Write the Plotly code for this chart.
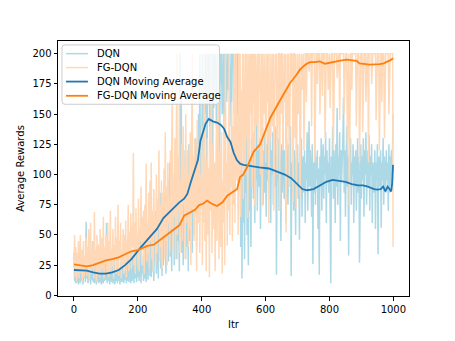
import plotly.graph_objects as go

# raw rewards read every 2 iterations (plus the final iteration)
itr_raw = list(range(0, 1000, 2)) + [999]

dqn_raw = [
    35, 12, 20, 10, 28, 11, 15, 9, 24, 13,
    10, 22, 12, 30, 9, 18, 14, 26, 11, 61,
    14, 25, 10, 19, 12, 32, 9, 21, 13, 45,
    11, 24, 10, 17, 28, 9, 15, 12, 22, 10,
    18, 11, 30, 9, 14, 25, 10, 20, 12, 35,
    13, 60, 10, 22, 12, 18, 9, 28, 11, 16,
    24, 10, 14, 32, 9, 19, 12, 26, 10, 40,
    12, 22, 9, 17, 30, 11, 14, 25, 10, 20,
    13, 35, 10, 24, 12, 45, 11, 18, 28, 10,
    30, 12, 20, 38, 10, 26, 14, 50, 11, 22,
    15, 40, 12, 28, 48, 10, 32, 18, 24, 12,
    35, 14, 55, 11, 25, 40, 13, 30, 60, 16,
    45, 15, 62, 20, 35, 12, 50, 28, 70, 18,
    40, 75, 14, 55, 30, 85, 22, 48, 16, 65,
    25, 90, 35, 60, 18, 78, 45, 95, 28, 55,
    110, 32, 70, 20, 88, 50, 100, 25, 65, 40,
    80, 30, 105, 45, 60, 20, 200, 90, 165, 35,
    95, 25, 120, 55, 75, 30, 110, 40, 85, 20,
    125, 45, 100, 60, 130, 35, 90, 110, 50, 120,
    70, 130, 40, 110, 85, 150, 60, 200, 95, 140,
    80, 200, 120, 180, 70, 200, 150, 200, 100, 190,
    200, 160, 200, 120, 200, 170, 200, 90, 200, 155,
    200, 180, 200, 140, 200, 200, 160, 200, 110, 200,
    175, 200, 150, 200, 200, 130, 200, 185, 200, 160,
    200, 200, 170, 200, 140, 200, 200, 160, 200, 190,
    200, 150, 200, 200, 175, 200, 130, 200, 165, 200,
    120, 40, 150, 14, 100, 60, 135, 30, 110, 85,
    140, 50, 95, 25, 125, 70, 110, 40, 130, 90,
    115, 80, 135, 60, 120, 95, 145, 70, 110, 125,
    90, 130, 55, 115, 100, 140, 75, 120, 85, 135,
    105, 65, 125, 95, 140, 80, 115, 130, 60, 120,
    100, 135, 75, 110, 125, 90, 140, 17, 115, 95,
    130, 70, 120, 100, 45, 125, 85, 135, 110, 80,
    120, 95, 60, 130, 105, 75, 125, 90, 115, 140,
    16, 110, 85, 125, 70, 120, 100, 50, 115, 90,
    125, 80, 110, 46, 120, 95, 130, 65, 105, 115,
    85, 120, 60, 110, 95, 135, 70, 115, 144, 90,
    120, 100, 65, 125, 26, 110, 85, 130, 75, 115,
    95, 120, 55, 105, 17, 115, 90, 130, 70, 110,
    125, 80, 115, 100, 135, 60, 120, 95, 110, 85,
    130, 70, 10, 115, 95, 140, 80, 120, 105, 60,
    125, 90, 155, 75, 115, 100, 135, 45, 120, 95,
    110, 130, 164, 85, 120, 65, 105, 140, 90, 115,
    33, 120, 95, 130, 75, 110, 100, 125, 60, 115,
    90, 120, 70, 110, 130, 85, 115, 27, 105, 125,
    80, 115, 95, 130, 65, 120, 100, 135, 75, 110,
    120, 90, 133, 70, 115, 100, 125, 60, 110, 95,
    85, 120, 55, 110, 95, 125, 34, 115, 90, 105,
    120, 56, 110, 95, 130, 75, 115, 100, 85, 120,
    95, 110, 70, 125, 85, 115, 90, 120, 100, 130,
    150,
]

fg_raw = [
    25, 50, 15, 40, 12, 35, 20, 45, 14, 30,
    50, 18, 38, 12, 28, 45, 15, 33, 22, 48,
    16, 40, 24, 55, 12, 30, 60, 18, 36, 22,
    45, 14, 69, 25, 38, 12, 50, 20, 42, 28,
    15, 55, 30, 18, 48, 22, 65, 14, 40, 26,
    50, 18, 35, 60, 15, 45, 28, 70, 20, 38,
    24, 55, 14, 42, 30, 65, 18, 48, 22, 75,
    16, 45, 32, 60, 14, 38, 25, 55, 18, 50,
    28, 62, 15, 45, 35, 75, 20, 52, 30, 68,
    22, 58, 40, 118, 25, 60, 18, 72, 35, 50,
    30, 80, 20, 55, 45, 90, 25, 65, 38, 70,
    18, 75, 42, 109, 28, 60, 35, 85, 22, 95,
    45, 110, 30, 70, 20, 88, 50, 65, 25, 100,
    35, 80, 55, 120, 28, 75, 40, 95, 22, 85,
    50, 105, 30, 135, 45, 90, 25, 110, 60, 80,
    35, 120, 55, 95, 179, 40, 100, 65, 130, 30,
    90, 200, 50, 115, 70, 162, 35, 95, 60, 125,
    45, 140, 75, 105, 30, 150, 85, 60, 120, 40,
    100, 55, 135, 25, 90, 200, 70, 115, 45, 130,
    65, 110, 20, 145, 80, 60, 125, 35, 100, 75,
    140, 25, 95, 60, 200, 45, 115, 20, 85, 130,
    50, 105, 15, 140, 70, 200, 35, 90, 125, 55,
    110, 20, 80, 145, 45, 100, 200, 30, 75, 120,
    40, 135, 18, 95, 60, 150, 25, 200, 85, 110,
    41, 130, 70, 200, 50, 115, 90, 160, 45, 140,
    75, 200, 60, 125, 200, 95, 150, 50, 200, 110,
    200, 65, 170, 120, 200, 80, 200, 140, 100, 200,
    130, 200, 64, 180, 200, 110, 200, 150, 200, 90,
    200, 160, 200, 74, 200, 140, 200, 200, 120, 200,
    170, 200, 100, 200, 200, 74, 200, 150, 200, 200,
    110, 200, 200, 160, 200, 60, 200, 200, 130, 200,
    200, 140, 200, 70, 200, 200, 180, 200, 100, 200,
    200, 200, 70, 200, 150, 200, 200, 120, 200, 200,
    160, 200, 52, 200, 200, 140, 200, 90, 200, 200,
    200, 180, 200, 77, 200, 200, 130, 200, 72, 200,
    200, 150, 200, 200, 82, 200, 200, 170, 200, 200,
    120, 200, 200, 200, 160, 200, 200, 200, 185, 200,
    200, 200, 140, 200, 200, 200, 200, 110, 200, 200,
    200, 175, 200, 200, 200, 150, 200, 200, 200, 165,
    200, 200, 200, 130, 200, 200, 200, 200, 170, 200,
    200, 155, 200, 200, 200, 200, 120, 200, 200, 200,
    200, 200, 180, 200, 200, 200, 145, 200, 200, 200,
    200, 200, 200, 150, 200, 200, 200, 200, 125, 200,
    200, 74, 200, 200, 200, 170, 200, 200, 200, 200,
    200, 200, 140, 200, 200, 200, 200, 110, 200, 200,
    200, 200, 135, 200, 200, 200, 200, 160, 200, 200,
    200, 110, 200, 200, 200, 200, 175, 200, 200, 200,
    200, 200, 200, 145, 200, 200, 200, 200, 120, 200,
    200, 200, 160, 200, 200, 200, 130, 200, 200, 200,
    200, 200, 200, 150, 200, 200, 200, 200, 200, 200,
    40,
]

dqn_ma_itr = [0, 20, 40, 60, 80, 100, 120, 140, 160, 180, 200, 210, 240, 260, 280,
              300, 313, 330, 345, 355, 365, 378, 388, 396, 412, 422, 435, 448, 460,
              470, 480, 490, 500, 510, 520, 530, 550, 580, 610, 640, 660, 680, 700,
              715, 730, 750, 770, 790, 810, 830, 850, 870, 890, 905, 920, 940, 950,
              960, 968, 975, 982, 988, 993, 996, 999]
dqn_ma = [21, 21, 20.5, 19, 18, 18, 19, 21, 25, 30, 37, 40, 49, 55, 64,
          69, 73, 77, 80, 84, 93, 104, 112, 128, 142, 146, 144, 143, 141,
          138, 131, 127, 118, 112, 109, 108, 107, 106, 105, 102, 100, 97, 92,
          88, 87, 88, 91, 94, 95.5, 95, 94, 92, 91, 91, 90, 88, 87.5,
          88, 90, 86, 90, 88, 86, 92, 108]

fg_ma_itr = [0, 20, 40, 60, 80, 100, 120, 140, 160, 180, 200, 215, 230, 250, 270,
             290, 313, 330, 345, 365, 380, 391, 405, 417, 430, 448, 465, 480, 495,
             511, 520, 530, 542, 562, 583, 600, 615, 640, 660, 677, 695, 708, 725,
             739, 755, 770, 786, 806, 830, 853, 870, 885, 894, 910, 926, 957, 970,
             982, 990, 999]
fg_ma = [25.7, 25, 24, 25, 27, 29, 30, 31.5, 34, 36.5, 37.5, 39, 41, 42, 46,
         50, 55, 58, 66, 69, 71, 74.5, 76, 78.5, 76, 74, 77, 82.5, 85,
         88, 98, 100, 106, 118.6, 125, 136, 147, 159, 168, 176, 182, 187, 191,
         193, 193, 193.6, 191.7, 193, 194, 195, 194.5, 194, 192, 191.5, 191, 191.4, 192,
         193.6, 194.5, 196.3]

assert len(dqn_raw) == len(itr_raw), len(dqn_raw)
assert len(fg_raw) == len(itr_raw), len(fg_raw)

y_ticks = [0, 25, 50, 75, 100, 125, 150, 175, 200]
x_ticks = [0, 200, 400, 600, 800, 1000]

series_names = ["DQN", "FG-DQN", "DQN Moving Average", "FG-DQN Moving Average"]
series_colors = ["#add8e6", "#ffd9b7", "#1f77b4", "#ff7f0e"]
series_widths = [1.5, 1.5, 1.8, 1.8]

fig = go.Figure()
fig.add_trace(go.Scatter(x=itr_raw, y=dqn_raw, mode="lines", name=series_names[0],
                         line=dict(color=series_colors[0], width=series_widths[0])))
fig.add_trace(go.Scatter(x=itr_raw, y=fg_raw, mode="lines", name=series_names[1],
                         line=dict(color=series_colors[1], width=series_widths[1])))
fig.add_trace(go.Scatter(x=dqn_ma_itr, y=dqn_ma, mode="lines", name=series_names[2],
                         line=dict(color=series_colors[2], width=series_widths[2])))
fig.add_trace(go.Scatter(x=fg_ma_itr, y=fg_ma, mode="lines", name=series_names[3],
                         line=dict(color=series_colors[3], width=series_widths[3])))

# ---- matplotlib-style legend box (plot-area pixel layout) ----
PW, PH = 352.0, 262.0          # plot area size in px
def px(xp):  # px from plot left -> paper x
    return xp / PW
def py(yp):  # px from plot top -> paper y
    return 1 - yp / PH

bx0, bx1, by0, by1, r = 4, 162, 4, 65, 3
path = (f"M {px(bx0 + r)},{py(by0)} L {px(bx1 - r)},{py(by0)} "
        f"Q {px(bx1)},{py(by0)} {px(bx1)},{py(by0 + r)} "
        f"L {px(bx1)},{py(by1 - r)} Q {px(bx1)},{py(by1)} {px(bx1 - r)},{py(by1)} "
        f"L {px(bx0 + r)},{py(by1)} Q {px(bx0)},{py(by1)} {px(bx0)},{py(by1 - r)} "
        f"L {px(bx0)},{py(by0 + r)} Q {px(bx0)},{py(by0)} {px(bx0 + r)},{py(by0)} Z")
shapes = [dict(type="path", xref="paper", yref="paper", path=path,
               line=dict(color="#cccccc", width=1), fillcolor="rgba(255,255,255,0.8)",
               layer="above")]
annotations = []
row_y = [13, 27.3, 41.7, 56.3]
for name, col, w, ry in zip(series_names, series_colors, series_widths, row_y):
    shapes.append(dict(type="line", xref="paper", yref="paper",
                       x0=px(8), x1=px(30), y0=py(ry), y1=py(ry),
                       line=dict(color=col, width=w), layer="above"))
    annotations.append(dict(xref="paper", yref="paper", x=px(37), y=py(ry),
                            xanchor="left", yanchor="middle", text=name, showarrow=False,
                            font=dict(size=10, color="black")))

axis_common = dict(showgrid=False, zeroline=False, showline=True, linecolor="black",
                   linewidth=1, mirror=True, ticks="outside", ticklen=3.5, tickwidth=0.8,
                   tickcolor="black", tickfont=dict(size=10, color="black"))

fig.update_layout(
    width=447, height=333,
    margin=dict(l=49, r=46, t=33, b=38),
    paper_bgcolor="white", plot_bgcolor="white",
    font=dict(family="DejaVu Sans", size=10, color="black"),
    showlegend=False,
    shapes=shapes,
    annotations=annotations,
    xaxis=dict(range=[-49.95, 1048.95], tickvals=x_ticks,
               title=dict(text="Itr", standoff=7, font=dict(size=10)), **axis_common),
    yaxis=dict(range=[-0.5, 210.5], tickvals=y_ticks,
               title=dict(text="Average Rewards", standoff=5, font=dict(size=10)), **axis_common),
)

fig.write_html("out.html")
